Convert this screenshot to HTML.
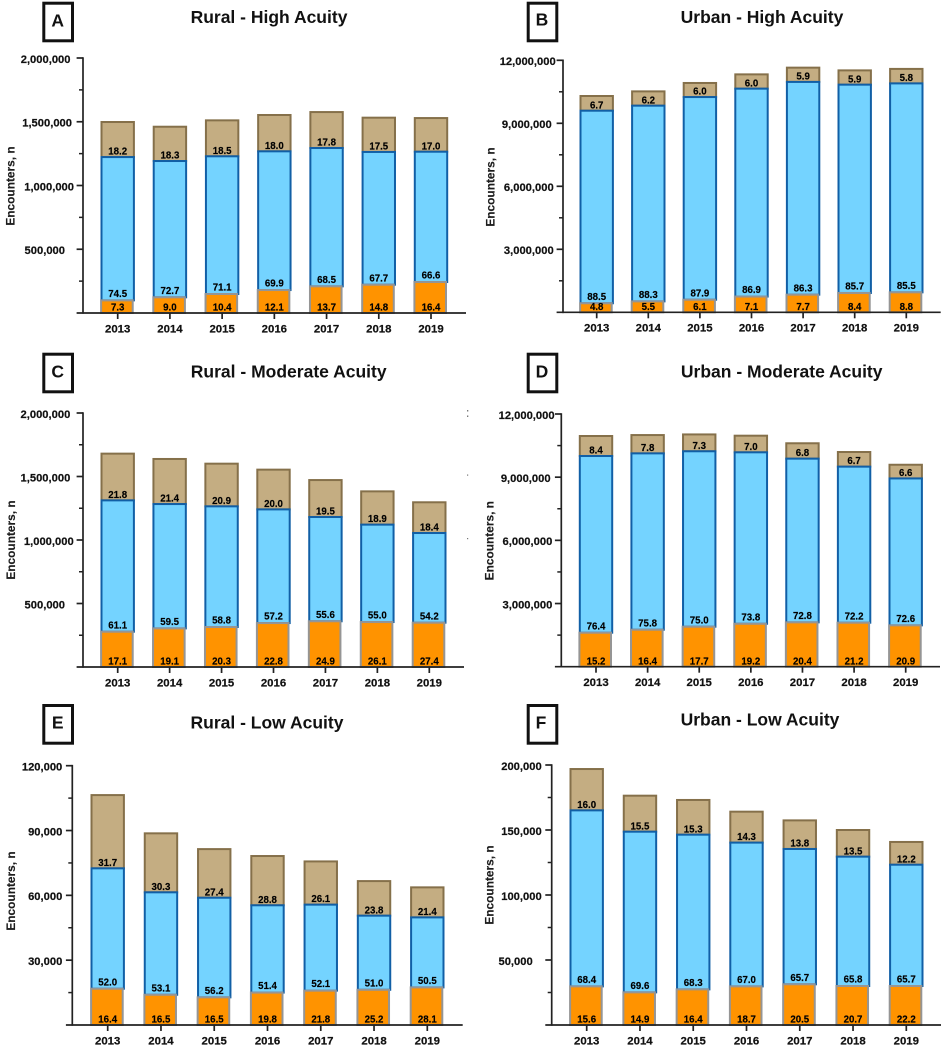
<!DOCTYPE html>
<html lang="en">
<head>
<meta charset="utf-8">
<title>Encounters by acuity, rural and urban, 2013-2019</title>
<style>
  html, body { margin: 0; padding: 0; background: #fff; }
  svg { display: block; filter: blur(0.35px); font-family: "Liberation Sans", Arial, sans-serif; font-weight: bold; fill: #111; }
  .title { font-size: 17.5px; text-anchor: middle; }
  .letter { font-size: 17.5px; text-anchor: middle; }
  .box { fill: #fff; stroke: #111; stroke-width: 3; }
  .ytitle { font-size: 11.9px; text-anchor: middle; fill: #1c1c1c; stroke: #1c1c1c; stroke-width: 0.15; }
  .tick-label { font-size: 11.2px; text-anchor: end; stroke: #111; stroke-width: 0.2; }
  .year { font-size: 11.4px; text-anchor: middle; stroke: #111; stroke-width: 0.2; }
  .pct { font-size: 9.7px; text-anchor: middle; fill: #000; stroke: #000; stroke-width: 0.15; }
</style>
</head>
<body>
<svg id="figure" width="945" height="1050" viewBox="0 0 945 1050" xmlns="http://www.w3.org/2000/svg">
  <g id="panel-a">
    <rect class="box" x="43.8" y="3.2" width="28.7" height="37.6"/>
    <text class="letter" x="57.7" y="26.3">A</text>
    <text class="title" x="269" y="23">Rural - High Acuity</text>
    <text class="ytitle" transform="translate(14.3 186) rotate(-90)">Encounters, n</text>
  </g>
  <g id="panel-b">
    <rect class="box" x="528.2" y="3.2" width="28.6" height="37.6"/>
    <text class="letter" x="542" y="25.3">B</text>
    <text class="title" x="762" y="23">Urban - High Acuity</text>
    <text class="ytitle" transform="translate(494.3 187) rotate(-90)">Encounters, n</text>
  </g>
  <g id="panel-c">
    <rect class="box" x="43.8" y="354.2" width="28.7" height="37.6"/>
    <text class="letter" x="57.7" y="377.3">C</text>
    <text class="title" x="288.7" y="377.6">Rural - Moderate Acuity</text>
    <text class="ytitle" transform="translate(14.8 540) rotate(-90)">Encounters, n</text>
  </g>
  <g id="panel-d">
    <rect class="box" x="528.2" y="354.2" width="28.6" height="37.6"/>
    <text class="letter" x="542" y="377.3">D</text>
    <text class="title" x="781.7" y="377.6">Urban - Moderate Acuity</text>
    <text class="ytitle" transform="translate(493.6 540.7) rotate(-90)">Encounters, n</text>
  </g>
  <g id="panel-e">
    <rect class="box" x="43.8" y="705.5" width="28.7" height="37.7"/>
    <text class="letter" x="57.7" y="728.3">E</text>
    <text class="title" x="267" y="728.6">Rural - Low Acuity</text>
    <text class="ytitle" transform="translate(14.8 891) rotate(-90)">Encounters, n</text>
  </g>
  <g id="panel-f">
    <rect class="box" x="528.2" y="705.5" width="28.6" height="37.7"/>
    <text class="letter" x="541" y="728.3">F</text>
    <text class="title" x="760" y="725.3">Urban - Low Acuity</text>
    <text class="ytitle" transform="translate(493.3 885) rotate(-90)">Encounters, n</text>
  </g>
  <g fill="#777">
    <rect x="467" y="410" width="1.3" height="1.5"/>
    <rect x="467" y="415.5" width="1.3" height="1.5"/>
    <rect x="467" y="474.5" width="1.2" height="1.2"/>
    <rect x="467" y="538" width="1.2" height="1.2"/>
  </g>
</svg>
<script>
const years = [2013, 2014, 2015, 2016, 2017, 2018, 2019];

const ticksA = [500000, 1000000, 1500000, 2000000];
const orangeA = [99000, 123000, 149000, 180000, 209000, 222000, 243000];
const blueA = [1124000, 1069000, 1080000, 1088000, 1085000, 1041000, 1022000];
const tanA = [275000, 269000, 282000, 285000, 282000, 269000, 264000];
const orangePctA = [7.3, 9.0, 10.4, 12.1, 13.7, 14.8, 16.4];
const bluePctA = [74.5, 72.7, 71.1, 69.9, 68.5, 67.7, 66.6];
const tanPctA = [18.2, 18.3, 18.5, 18.0, 17.8, 17.5, 17.0];

const ticksB = [3000000, 6000000, 9000000, 12000000];
const orangeB = [430000, 520000, 600000, 750000, 840000, 920000, 950000];
const blueB = [9170000, 9320000, 9650000, 9900000, 10130000, 9920000, 9950000];
const tanB = [700000, 680000, 670000, 680000, 680000, 680000, 690000];
const orangePctB = [4.8, 5.5, 6.1, 7.1, 7.7, 8.4, 8.8];
const bluePctB = [88.5, 88.3, 87.9, 86.9, 86.3, 85.7, 85.5];
const tanPctB = [6.7, 6.2, 6.0, 6.0, 5.9, 5.9, 5.8];

const ticksC = [500000, 1000000, 1500000, 2000000];
const orangeC = [278000, 304000, 315000, 346000, 360000, 354000, 349000];
const blueC = [1034000, 979000, 950000, 895000, 821000, 767000, 706000];
const tanC = [368000, 355000, 336000, 313000, 291000, 262000, 242000];
const orangePctC = [17.1, 19.1, 20.3, 22.8, 24.9, 26.1, 27.4];
const bluePctC = [61.1, 59.5, 58.8, 57.2, 55.6, 55.0, 54.2];
const tanPctC = [21.8, 21.4, 20.9, 20.0, 19.5, 18.9, 18.4];

const ticksD = [3000000, 6000000, 9000000, 12000000];
const orangeD = [1615000, 1757000, 1900000, 2040000, 2105000, 2090000, 1963000];
const blueD = [8390000, 8373000, 8330000, 8140000, 7775000, 7410000, 6977000];
const tanD = [950000, 870000, 800000, 790000, 730000, 695000, 650000];
const orangePctD = [15.2, 16.4, 17.7, 19.2, 20.4, 21.2, 20.9];
const bluePctD = [76.4, 75.8, 75.0, 73.8, 72.8, 72.2, 72.6];
const tanPctD = [8.4, 7.8, 7.3, 7.0, 6.8, 6.7, 6.6];

const ticksE = [30000, 60000, 90000, 120000];
const orangeE = [16800, 14000, 12800, 15000, 15900, 16300, 17400];
const blueE = [55700, 47400, 46100, 40400, 39800, 34300, 32400];
const tanE = [33900, 27300, 22500, 22800, 20000, 16000, 13900];
const orangePctE = [16.4, 16.5, 16.5, 19.8, 21.8, 25.2, 28.1];
const bluePctE = [52.0, 53.1, 56.2, 51.4, 52.1, 51.0, 50.5];
const tanPctE = [31.7, 30.3, 27.4, 28.8, 26.1, 23.8, 21.4];

const ticksF = [50000, 100000, 150000, 200000];
const orangeF = [29700, 25100, 27400, 29700, 31300, 30000, 30000];
const blueF = [135400, 123600, 119000, 110600, 104100, 99500, 93300];
const tanF = [31800, 27700, 26700, 23800, 22000, 20500, 17500];
const orangePctF = [15.6, 14.9, 16.4, 18.7, 20.5, 20.7, 22.2];
const bluePctF = [68.4, 69.6, 68.3, 67.0, 65.7, 65.8, 65.7];
const tanPctF = [16.0, 15.5, 15.3, 14.3, 13.8, 13.5, 12.2];

const SVG_NS = 'http://www.w3.org/2000/svg';

function make(parent, tag, attrs, text) {
  const node = document.createElementNS(SVG_NS, tag);
  for (const key in attrs) {
    node.setAttribute(key, attrs[key]);
  }
  if (text !== undefined) {
    node.textContent = text;
  }
  parent.appendChild(node);
  return node;
}

function drawPanel(p) {
  const root = document.getElementById(p.id);
  const maxValue = p.ticks[p.ticks.length - 1];
  const yScale = function (v) {
    return p.y0 - (v / maxValue) * (p.y0 - p.yTop);
  };
  const xScale = function (i) {
    return p.xFirst + (i / (years.length - 1)) * (p.xLast - p.xFirst);
  };
  const barWidth = 32.4;

  years.forEach(function (year, i) {
    const cx = xScale(i);
    const orangeTop = yScale(p.orange[i]);
    const blueTop = yScale(p.orange[i] + p.blue[i]);
    const tanTop = yScale(p.orange[i] + p.blue[i] + p.tan[i]);

    const tanBar = make(root, 'rect', { x: cx - barWidth / 2, y: tanTop, width: barWidth, height: blueTop - tanTop, fill: '#c4ad82', stroke: '#85704a', 'stroke-width': 2 });
    
    

    const blueBar = make(root, 'rect', { x: cx - barWidth / 2, y: blueTop, width: barWidth, height: orangeTop - blueTop, fill: '#74d3ff', stroke: '#115fa6', 'stroke-width': 2 });
    
    

    const orangeBar = make(root, 'rect', { x: cx - barWidth / 2 - 0.4, y: orangeTop, width: barWidth - 0.8, height: p.y0 - orangeTop, fill: '#ff9300', stroke: '#959595', 'stroke-width': 2 });
    
    

    const tanLabel = make(root, 'text', { class: 'pct', x: cx, y: blueTop - 2.4 }, p.tanPct[i].toFixed(1));
    
    

    const blueLabel = make(root, 'text', { class: 'pct', x: cx, y: orangeTop - 3.4 }, p.bluePct[i].toFixed(1));
    
    

    const orangeLabel = make(root, 'text', { class: 'pct', x: cx, y: p.y0 - 2.4 }, p.orangePct[i].toFixed(1));
    
    

    const xTick = make(root, 'line', { x1: cx, x2: cx, y1: p.y0, y2: p.y0 + 6, stroke: '#222', 'stroke-width': 1.7 });
    
    

    const yearLabel = make(root, 'text', { class: 'year', x: cx, y: p.y0 + 19.3 }, String(year));
    
    
  });

  const yAxis = make(root, 'line', { x1: p.xAxis, x2: p.xAxis, y1: p.yTop - 0.8, y2: p.y0 + 0.8, stroke: '#222', 'stroke-width': 1.7 });
  
  

  const xAxis = make(root, 'line', { x1: p.xAxis - 6.4, x2: p.xEnd, y1: p.y0, y2: p.y0, stroke: '#222', 'stroke-width': 1.7 });
  
  

  p.ticks.forEach(function (value, i) {
    const y = yScale(value);
    const majorTick = make(root, 'line', { x1: p.xAxis - 6.4, x2: p.xAxis, y1: y, y2: y, stroke: '#222', 'stroke-width': 1.7 });
    
    

    const minorY = yScale(value - maxValue / p.ticks.length / 2);
    const minorTick = make(root, 'line', { x1: p.xAxis - 4, x2: p.xAxis, y1: minorY, y2: minorY, stroke: '#222', 'stroke-width': 1.5 });
    
    

    const tickLabel = make(root, 'text', { class: 'tick-label', x: p.xAxis + p.labelShift[i], y: y + 4.8 }, value.toLocaleString('en-US'));
    
    
  });
}

drawPanel({ id: 'panel-a', ticks: ticksA, orange: orangeA, blue: blueA, tan: tanA, orangePct: orangePctA, bluePct: bluePctA, tanPct: tanPctA,
  xAxis: 83, xEnd: 466, y0: 313, yTop: 58, xFirst: 117.7, xLast: 431, labelShift: [-18, -9, -11, -12.5] });
drawPanel({ id: 'panel-b', ticks: ticksB, orange: orangeB, blue: blueB, tan: tanB, orangePct: orangePctB, bluePct: bluePctB, tanPct: tanPctB,
  xAxis: 563, xEnd: 940.7, y0: 312.3, yTop: 60.3, xFirst: 596.7, xLast: 906.3, labelShift: [-9.3, -9.3, -11.3, -7.3] });
drawPanel({ id: 'panel-c', ticks: ticksC, orange: orangeC, blue: blueC, tan: tanC, orangePct: orangePctC, bluePct: bluePctC, tanPct: tanPctC,
  xAxis: 83, xEnd: 464, y0: 667, yTop: 413, xFirst: 117.7, xLast: 429.3, labelShift: [-18, -9.3, -12.7, -12.7] });
drawPanel({ id: 'panel-d', ticks: ticksD, orange: orangeD, blue: blueD, tan: tanD, orangePct: orangePctD, bluePct: bluePctD, tanPct: tanPctD,
  xAxis: 561.3, xEnd: 940, y0: 666.7, yTop: 414, xFirst: 596, xLast: 905.7, labelShift: [-9, -9, -10.7, -6.7] });
drawPanel({ id: 'panel-e', ticks: ticksE, orange: orangeE, blue: blueE, tan: tanE, orangePct: orangePctE, bluePct: bluePctE, tanPct: tanPctE,
  xAxis: 72.3, xEnd: 462.7, y0: 1025, yTop: 765.7, xFirst: 107.7, xLast: 427.3, labelShift: [-10, -10, -10, -10] });
drawPanel({ id: 'panel-f', ticks: ticksF, orange: orangeF, blue: blueF, tan: tanF, orangePct: orangePctF, bluePct: bluePctF, tanPct: tanPctF,
  xAxis: 551.7, xEnd: 941, y0: 1025, yTop: 765, xFirst: 586.7, xLast: 906.3, labelShift: [-19, -10, -10, -10] });
</script>
</body>
</html>
